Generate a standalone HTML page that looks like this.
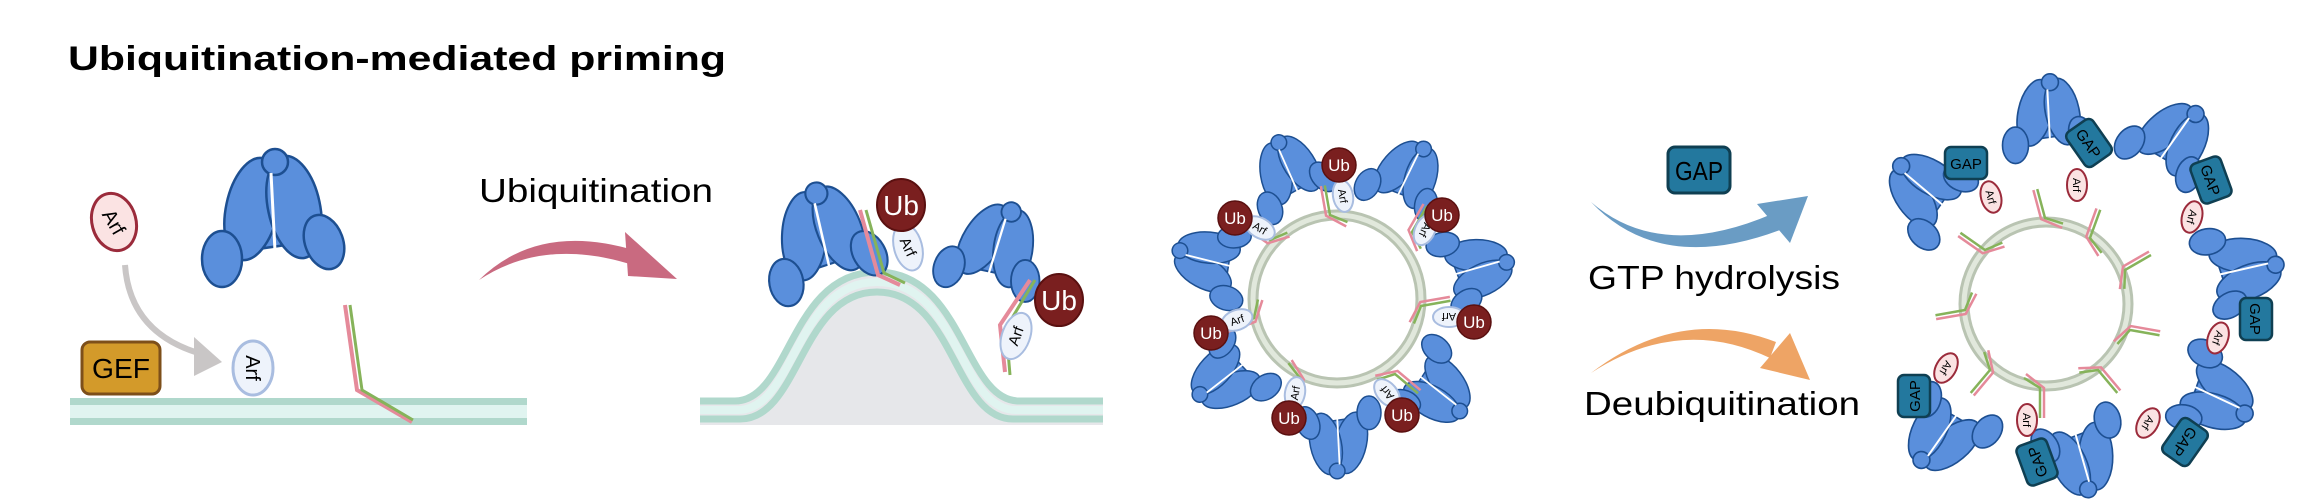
<!DOCTYPE html>
<html><head><meta charset="utf-8"><style>
html,body{margin:0;padding:0;background:#fff;}
svg{display:block;}
text{font-family:"Liberation Sans",sans-serif;}
</style></head><body>
<svg width="2308" height="504" viewBox="0 0 2308 504" xmlns="http://www.w3.org/2000/svg">
<defs>
<g id="coat" stroke="#1d4f91" stroke-width="2.5" fill="#5a8fdc">
  <polygon points="-35,35 35,25 18,-48 -14,-48"/>
  <ellipse cx="-20" cy="-8" rx="26" ry="52" transform="rotate(12,-20,-8)"/>
  <ellipse cx="22" cy="-10" rx="26" ry="52" transform="rotate(-12,22,-10)"/>
  <ellipse cx="-50" cy="42" rx="20" ry="28"/>
  <ellipse cx="52" cy="25" rx="19" ry="28" transform="rotate(-20,52,25)"/>
  <circle cx="3" cy="-55" r="13"/>
  <line x1="-1" y1="-44" x2="3" y2="34" stroke="#fff" stroke-width="3"/>
</g>
<g id="ub"><circle r="17" fill="#7a1f1f" stroke="#5a1010" stroke-width="1.5"/><text x="0" y="6" font-size="17" fill="#fff" text-anchor="middle">Ub</text></g>
<g id="arfw"><ellipse rx="10" ry="16" fill="#eef3fb" stroke="#a9bde0" stroke-width="2"/><text x="0" y="4" font-size="11" text-anchor="middle" transform="rotate(90)">Arf</text></g>
<g id="arfp"><ellipse rx="10" ry="16" fill="#fbe3e3" stroke="#9b2b3b" stroke-width="2"/><text x="0" y="4" font-size="11" text-anchor="middle" transform="rotate(90)">Arf</text></g>
<g id="gap"><rect x="-16" y="-21" width="32" height="42" rx="6" fill="#23789e" stroke="#0f3f52" stroke-width="2.5"/><text x="0" y="6" font-size="15" text-anchor="middle" transform="rotate(90)">GAP</text></g>
<g id="tick" fill="none" stroke-width="2.5"><path d="M-4,-30 L-4,0 L14,14" stroke="#e58a9a"/><path d="M0,-30 L0,0 L16,10" stroke="#86b35a"/></g>
</defs>

<text x="68" y="70" font-size="34" font-weight="bold" textLength="658" lengthAdjust="spacingAndGlyphs">Ubiquitination-mediated priming</text>

<rect x="70" y="398" width="457" height="27" fill="#e0f4f0"/>
<rect x="70" y="398" width="457" height="7" fill="#b0d8cc"/>
<rect x="70" y="418" width="457" height="7" fill="#b0d8cc"/>

<rect x="82" y="342" width="78" height="52" rx="8" fill="#d39a2a" stroke="#7d4f1a" stroke-width="3"/>
<text x="121" y="378" font-size="28" text-anchor="middle" textLength="58" lengthAdjust="spacingAndGlyphs">GEF</text>

<g transform="translate(114,222) rotate(-15)"><ellipse rx="22" ry="29" fill="#fbe3e3" stroke="#9b2b3b" stroke-width="3"/><text y="7" font-size="20" text-anchor="middle" transform="rotate(75)">Arf</text></g>
<g transform="translate(253,368)"><ellipse rx="20" ry="27" fill="#eef3fb" stroke="#a9bde0" stroke-width="3"/><text y="7" font-size="20" text-anchor="middle" transform="rotate(90)">Arf</text></g>

<path d="M125,265 Q130,335 205,355" fill="none" stroke="#c9c6c6" stroke-width="6"/>
<polygon points="194,337 222,362 194,376" fill="#c9c6c6"/>

<use href="#coat" transform="translate(272,217)"/>

<path d="M345,305 L357,390 L412,422" fill="none" stroke="#e58a9a" stroke-width="4"/>
<path d="M350,305 L362,390 L413,420" fill="none" stroke="#86b35a" stroke-width="3"/>

<text x="479" y="202" font-size="33" textLength="234" lengthAdjust="spacingAndGlyphs">Ubiquitination</text>
<path d="M479,280 Q540,220 640,252 L636,266 Q545,236 479,280 Z" fill="#c96a80"/>
<polygon points="625,232 677,279 628,276" fill="#c96a80"/>

<path d="M700,398 L735,398 C790,398 790,269 877,269 C964,269 964,398 1019,398 L1103,398 L1103,425 L700,425 Z" fill="#e6e7ea"/>
<path d="M700,401 L735,401 C790,401 790,272 877,272 C964,272 964,401 1019,401 L1103,401" fill="none" stroke="#b0d8cc" stroke-width="7"/>
<path d="M700,410 L738,410 C795,410 795,282 877,282 C959,282 959,410 1016,410 L1103,410" fill="none" stroke="#e0f4f0" stroke-width="8"/>
<path d="M700,419 L740,419 C800,419 800,292 877,292 C954,292 954,419 1013,419 L1103,419" fill="none" stroke="#b0d8cc" stroke-width="7"/>
<use href="#coat" transform="translate(822,240) scale(0.85) rotate(-10)"/>
<use href="#coat" transform="translate(995,250) scale(0.75) rotate(20)"/>
<path d="M860,210 L878,275 L900,285" fill="none" stroke="#e58a9a" stroke-width="4"/>
<path d="M866,210 L884,273 L905,283" fill="none" stroke="#86b35a" stroke-width="3"/>
<path d="M1030,280 L1000,325 L1005,372" fill="none" stroke="#e58a9a" stroke-width="4"/>
<path d="M1035,280 L1006,328 L1010,375" fill="none" stroke="#86b35a" stroke-width="3"/>
<g transform="translate(908,247) rotate(-15)"><ellipse rx="14" ry="24" fill="#eef3fb" stroke="#a9bde0" stroke-width="2"/><text y="5" font-size="15" text-anchor="middle" transform="rotate(80)">Arf</text></g>
<g transform="translate(1016,336) rotate(20)"><ellipse rx="14" ry="24" fill="#eef3fb" stroke="#a9bde0" stroke-width="2"/><text y="5" font-size="15" text-anchor="middle" transform="rotate(-90)">Arf</text></g>
<g transform="translate(901,205)"><ellipse rx="24" ry="26" fill="#7a1f1f" stroke="#5a1010" stroke-width="2"/><text y="10" font-size="28" fill="#fff" text-anchor="middle">Ub</text></g>
<g transform="translate(1059,300)"><ellipse rx="24" ry="26" fill="#7a1f1f" stroke="#5a1010" stroke-width="2"/><text y="10" font-size="28" fill="#fff" text-anchor="middle">Ub</text></g>

<circle cx="1337" cy="299" r="84" fill="none" stroke="#b9c4b2" stroke-width="11"/>
<circle cx="1337" cy="299" r="84" fill="none" stroke="#e1e8dc" stroke-width="5"/>
<use href="#coat" transform="translate(1289,174) rotate(-21) scale(0.6)"/>
<use href="#coat" transform="translate(1406,177) rotate(29) scale(0.6)"/>
<use href="#coat" transform="translate(1474,268) rotate(77) scale(0.6)"/>
<use href="#coat" transform="translate(1436,388) rotate(131) scale(0.6)"/>
<use href="#coat" transform="translate(1339,438) rotate(180) scale(0.6)"/>
<use href="#coat" transform="translate(1228,377) rotate(-125) scale(0.6)"/>
<use href="#coat" transform="translate(1211,262) rotate(-73) scale(0.6)"/>
<use href="#tick" transform="translate(1330,215) rotate(-10)"/>
<use href="#tick" transform="translate(1412,232) rotate(30)"/>
<use href="#tick" transform="translate(1421,306) rotate(80)"/>
<use href="#tick" transform="translate(1395,374) rotate(130)"/>
<use href="#tick" transform="translate(1300,378) rotate(-160)"/>
<use href="#tick" transform="translate(1254,318) rotate(-110)"/>
<use href="#tick" transform="translate(1270,240) rotate(-55)"/>
<use href="#arfw" transform="translate(1343,196) rotate(-10)"/>
<use href="#arfw" transform="translate(1425,230) rotate(25)"/>
<use href="#arfw" transform="translate(1449,317) rotate(90)"/>
<use href="#arfw" transform="translate(1387,393) rotate(140)"/>
<use href="#arfw" transform="translate(1295,393) rotate(-170)"/>
<use href="#arfw" transform="translate(1237,320) rotate(-110)"/>
<use href="#arfw" transform="translate(1260,228) rotate(-60)"/>
<use href="#ub" transform="translate(1339,165)"/>
<use href="#ub" transform="translate(1442,215)"/>
<use href="#ub" transform="translate(1235,218)"/>
<use href="#ub" transform="translate(1474,322)"/>
<use href="#ub" transform="translate(1211,333)"/>
<use href="#ub" transform="translate(1289,418)"/>
<use href="#ub" transform="translate(1402,415)"/>

<rect x="1668" y="147" width="62" height="46" rx="7" fill="#23789e" stroke="#0f3f52" stroke-width="3"/>
<text x="1699" y="180" font-size="26" text-anchor="middle" textLength="48" lengthAdjust="spacingAndGlyphs">GAP</text>
<path d="M1591,202 Q1660,262 1772,214 L1780,230 Q1660,275 1591,202 Z" fill="#6a9cc4"/>
<polygon points="1757,204 1808,196 1790,243" fill="#6a9cc4"/>
<text x="1588" y="289" font-size="33" textLength="252" lengthAdjust="spacingAndGlyphs">GTP hydrolysis</text>
<path d="M1591,373 Q1680,305 1776,342 L1770,358 Q1680,315 1591,373 Z" fill="#eea465"/>
<polygon points="1790,333 1810,380 1760,368" fill="#eea465"/>
<text x="1584" y="415" font-size="33" textLength="276" lengthAdjust="spacingAndGlyphs">Deubiquitination</text>

<circle cx="2046" cy="304" r="82" fill="none" stroke="#b9c4b2" stroke-width="11"/>
<circle cx="2046" cy="304" r="82" fill="none" stroke="#e1e8dc" stroke-width="5"/>
<use href="#tick" transform="translate(2045,218) rotate(-15)"/>
<use href="#tick" transform="translate(2090,238) rotate(20)"/>
<use href="#tick" transform="translate(2125,270) rotate(60)"/>
<use href="#tick" transform="translate(2130,330) rotate(100)"/>
<use href="#tick" transform="translate(2098,370) rotate(140)"/>
<use href="#tick" transform="translate(2040,388) rotate(180)"/>
<use href="#tick" transform="translate(1990,370) rotate(-140)"/>
<use href="#tick" transform="translate(1965,310) rotate(-100)"/>
<use href="#tick" transform="translate(1985,250) rotate(-55)"/>
<use href="#coat" transform="translate(1926,192) rotate(-47) scale(0.65)"/>
<use href="#coat" transform="translate(2048,118) scale(0.65)"/>
<use href="#coat" transform="translate(2172,141) rotate(38) scale(0.65)"/>
<use href="#coat" transform="translate(2240,269) rotate(80) scale(0.65)"/>
<use href="#coat" transform="translate(2214,395) rotate(118) scale(0.65)"/>
<use href="#coat" transform="translate(2082,454) rotate(167) scale(0.65)"/>
<use href="#coat" transform="translate(1945,433) rotate(-142) scale(0.65)"/>
<use href="#gap" transform="translate(1966,163) rotate(-90)"/>
<use href="#gap" transform="translate(2089,143) rotate(-35)"/>
<use href="#gap" transform="translate(2211,180) rotate(-20)"/>
<use href="#gap" transform="translate(2256,319)"/>
<use href="#gap" transform="translate(2185,442) rotate(35)"/>
<use href="#gap" transform="translate(2037,462) rotate(160)"/>
<use href="#gap" transform="translate(1914,396) rotate(-180)"/>
<use href="#arfp" transform="translate(1991,197) rotate(-15)"/>
<use href="#arfp" transform="translate(2077,185)"/>
<use href="#arfp" transform="translate(2192,217) rotate(15)"/>
<use href="#arfp" transform="translate(2218,338) rotate(20)"/>
<use href="#arfp" transform="translate(2148,423) rotate(30)"/>
<use href="#arfp" transform="translate(2027,420)"/>
<use href="#arfp" transform="translate(1946,368) rotate(30)"/>
</svg>
</body></html>
